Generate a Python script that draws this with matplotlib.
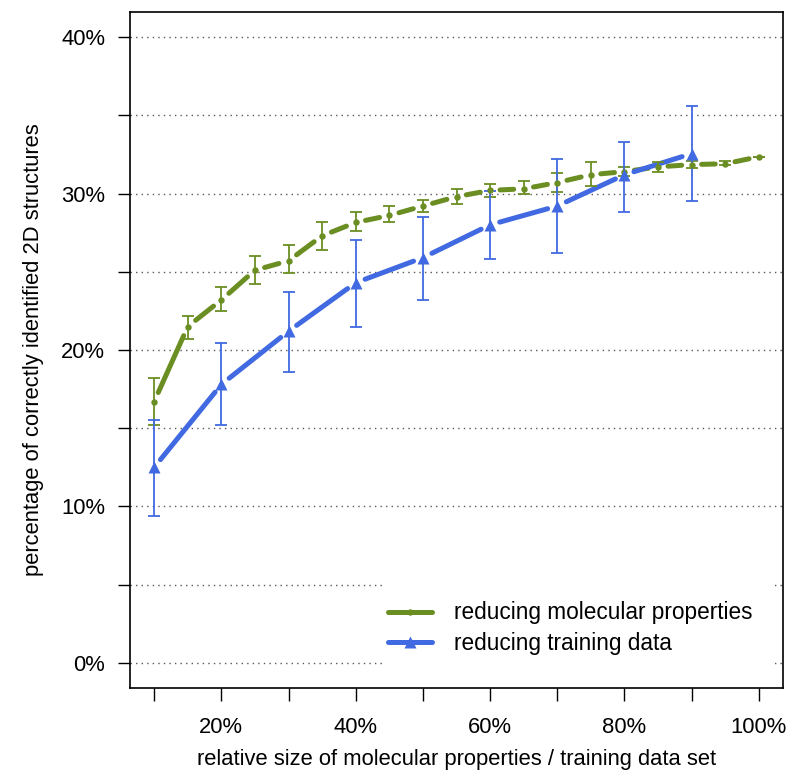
import numpy as np
import matplotlib
matplotlib.use('Agg')
import matplotlib.pyplot as plt
from matplotlib.lines import Line2D
from matplotlib.patches import Rectangle

plt.rcParams['font.family'] = ['Liberation Sans', 'DejaVu Sans']

# reducing molecular properties (x in %, mean and error bar ends in %)
mol_x = [10, 15, 20, 25, 30, 35, 40, 45, 50, 55, 60, 65, 70, 75, 80, 85, 90, 95, 100]
mol_y = [16.7, 21.5, 23.2, 25.1, 25.7, 27.3, 28.15, 28.6, 29.2, 29.8, 30.2, 30.3,
         30.7, 31.2, 31.4, 31.7, 31.85, 31.9, 32.35]
mol_hi = [18.2, 22.2, 24.0, 26.0, 26.7, 28.2, 28.8, 29.2, 29.6, 30.3, 30.6, 30.8,
          31.3, 32.0, 31.7, 32.0, 32.1, 32.1, 32.35]
mol_lo = [15.2, 20.7, 22.5, 24.2, 24.9, 26.4, 27.6, 28.2, 28.8, 29.3, 29.8, 30.0,
          30.1, 30.5, 31.1, 31.4, 31.6, 31.8, 32.35]

# reducing training data
trn_x = [10, 20, 30, 40, 50, 60, 70, 80, 90]
trn_y = [12.5, 17.8, 21.2, 24.3, 25.9, 28.0, 29.2, 31.2, 32.55]
trn_hi = [15.5, 20.45, 23.7, 27.0, 28.5, 30.15, 32.2, 33.3, 35.6]
trn_lo = [9.4, 15.2, 18.6, 21.5, 23.2, 25.8, 26.2, 28.8, 29.5]

y_ticks = [0, 5, 10, 15, 20, 25, 30, 35, 40]
y_labels = ['0%', '', '10%', '', '20%', '', '30%', '', '40%']
x_ticks = [10, 20, 30, 40, 50, 60, 70, 80, 90, 100]
x_labels = ['', '20%', '', '40%', '', '60%', '', '80%', '', '100%']

GREEN = '#6b8e23'
BLUE = '#4169e1'
FS = 15.8

fig = plt.figure(figsize=(7.91, 7.71), dpi=100)
ax = fig.add_axes([130 / 791, 83 / 771, 653 / 791, 676 / 771])
ax.set_xlim(6.4, 103.6)
ax.set_ylim(-1.6, 41.6)

for y in y_ticks:
    ax.axhline(y, color='0.35', lw=1.0, linestyle=(0, (1, 3)), zorder=1)


def gapped_line(xs, ys, color, gap=10, lw=3.6):
    # draw lines between points but stop short of each point, R type="b" style
    pts = ax.transData.transform(np.column_stack([xs, ys]))
    inv = ax.transData.inverted()
    for p, q in zip(pts[:-1], pts[1:]):
        d = q - p
        n = np.hypot(*d)
        if n <= 2 * gap:
            continue
        u = d / n
        a, b = inv.transform(np.array([p + u * gap, q - u * gap]))
        ax.plot([a[0], b[0]], [a[1], b[1]], color=color, lw=lw,
                solid_capstyle='round', zorder=3)


gapped_line(mol_x, mol_y, GREEN)
gapped_line(trn_x, trn_y, BLUE)

mol_err = [np.array(mol_y) - np.array(mol_lo), np.array(mol_hi) - np.array(mol_y)]
trn_err = [np.array(trn_y) - np.array(trn_lo), np.array(trn_hi) - np.array(trn_y)]
ax.errorbar(mol_x, mol_y, yerr=mol_err, fmt='none', ecolor=GREEN, elinewidth=1.3,
            capsize=4.5, capthick=1.3, zorder=4)
ax.errorbar(trn_x, trn_y, yerr=trn_err, fmt='none', ecolor=BLUE, elinewidth=1.3,
            capsize=4.5, capthick=1.3, zorder=4)
ax.plot(mol_x, mol_y, 'o', color=GREEN, ms=3.6, zorder=5)
ax.plot(trn_x, trn_y, '^', color=BLUE, ms=8.5, mec='none', zorder=5)

# white patch behind the legend hides the grid there
ax.add_patch(Rectangle((0.388, 0.027), 0.60, 0.128, transform=ax.transAxes,
                       facecolor='white', edgecolor='none', zorder=2))
handles = [
    Line2D([], [], color=GREEN, lw=3.6, marker='o', ms=3.6, solid_capstyle='round'),
    Line2D([], [], color=BLUE, lw=3.6, marker='^', ms=8.5, mec='none',
           solid_capstyle='round'),
]
ax.legend(handles, ['reducing molecular properties', 'reducing training data'],
          loc='upper left', bbox_to_anchor=(0.395, 0.128), frameon=False,
          fontsize=16.3, handlelength=1.95, handletextpad=0.95, labelspacing=0.32,
          borderaxespad=0, borderpad=0)

ax.set_yticks(y_ticks)
ax.set_yticklabels(y_labels)
ax.set_xticks(x_ticks)
ax.set_xticklabels(x_labels)
ax.tick_params(axis='both', direction='out', length=9, width=1.0, labelsize=FS,
               color='black')
ax.tick_params(axis='x', pad=12)
ax.tick_params(axis='y', pad=9)
for s in ax.spines.values():
    s.set_linewidth(1.2)

ax.set_xlabel('relative size of molecular properties / training data set', fontsize=FS,
              labelpad=8)
ax.set_ylabel('percentage of correctly identified 2D structures', fontsize=FS,
              labelpad=12)

fig.savefig('out.png', dpi=100)
